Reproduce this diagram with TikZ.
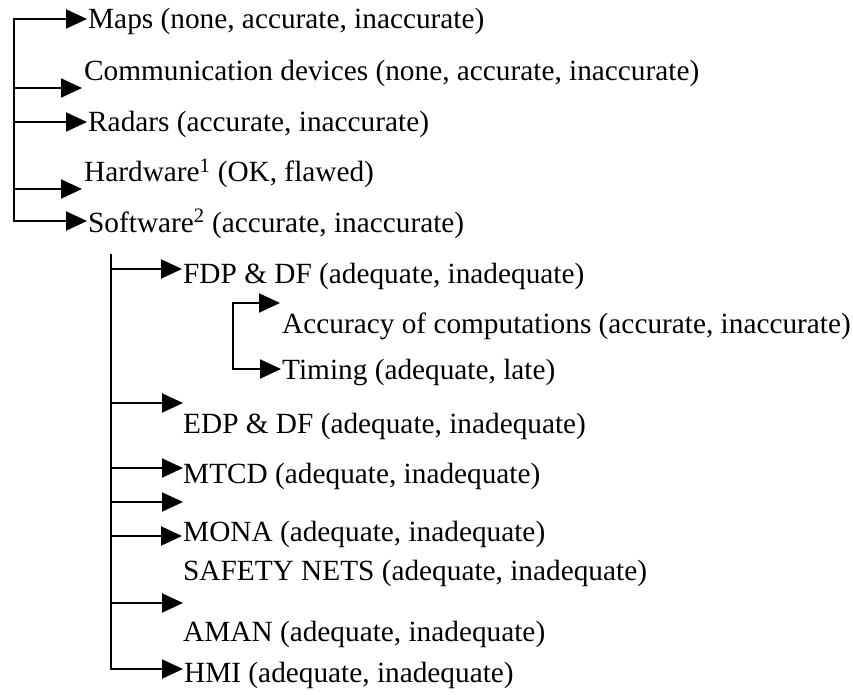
\documentclass[tikz,border=0pt]{standalone}
\usepackage{fontspec}
\setmainfont{Liberation Serif}
\usetikzlibrary{arrows.meta}
\begin{document}
\begin{tikzpicture}[x=1pt,y=-1pt,
  item/.style={anchor=base west, inner sep=0pt, font=\fontsize{29.3}{35}\selectfont},
  wire/.style={line width=2pt, line cap=rect},
  branch/.style={line width=2pt, -{Triangle[length=21pt,width=19pt]}}]
\useasboundingbox (0,0) rectangle (853,695);

% ---- labels ----
\node[item] (maps)   at (88,29)  {Maps (none, accurate, inaccurate)};
\node[item] (comm)   at (84,81)  {Communication devices (none, accurate, inaccurate)};
\node[item] (radars) at (88,132) {Radars (accurate, inaccurate)};
\node[item] (hw)     at (84,182) {Hardware\textsuperscript{1} (OK, flawed)};
\node[item] (sw)     at (88,232) {Software\textsuperscript{2} (accurate, inaccurate)};

\node[item] (fdp)    at (183,283) {FDP \& DF (adequate, inadequate)};
\node[item] (acc)    at (282,333) {Accuracy of computations (accurate, inaccurate)};
\node[item] (timing) at (282,379) {Timing (adequate, late)};
\node[item] (edp)    at (183,433) {EDP \& DF (adequate, inadequate)};
\node[item] (mtcd)   at (183,483) {MTCD (adequate, inadequate)};
\node[item] (mona)   at (183,541) {MONA (adequate, inadequate)};
\node[item] (safety) at (183,580) {SAFETY NETS (adequate, inadequate)};
\node[item] (aman)   at (183,641) {AMAN (adequate, inadequate)};
\node[item] (hmi)    at (184,682) {HMI (adequate, inadequate)};

% ---- arrow tips, placed against their labels ----
\coordinate (maps-in)   at ([shift={(-1,-10)}]maps.base west);
\coordinate (comm-in)   at ([shift={(-2,7)}]comm.base west);
\coordinate (radars-in) at ([shift={(-1,-10)}]radars.base west);
\coordinate (hw-in)     at ([shift={(-2,7)}]hw.base west);
\coordinate (sw-in)     at ([shift={(-1,-11)}]sw.base west);

\coordinate (fdp-in)    at ([shift={(-1,-14)}]fdp.base west);
\coordinate (acc-in)    at ([shift={(-2,-30)}]acc.base west);
\coordinate (timing-in) at ([shift={(-1,-10)}]timing.base west);
\coordinate (edp-in)    at ([shift={(0,-30)}]edp.base west);
\coordinate (mtcd-in)   at ([shift={(0,-15)}]mtcd.base west);
\coordinate (extra-in)  at ([shift={(0,-39)}]mona.base west);
\coordinate (mona-in)   at ([shift={(-1,-5)}]mona.base west);
\coordinate (aman-in)   at ([shift={(0,-38)}]aman.base west);
\coordinate (hmi-in)    at ([shift={(-1,-13)}]hmi.base west);

% ---- trunks ----
\coordinate (A) at (14,0);
\coordinate (B) at (111,255);
\coordinate (C) at (233,0);
\draw[wire] (A |- maps-in) -- (A |- sw-in);
\draw[wire] (B) -- (B |- hmi-in);
\draw[wire] (C |- acc-in) -- (C |- timing-in);

% ---- branches ----
\foreach \t in {maps,comm,radars,hw,sw}
  \draw[branch] (A |- \t-in) -- (\t-in);
\foreach \t in {fdp,edp,mtcd,extra,mona,aman,hmi}
  \draw[branch] (B |- \t-in) -- (\t-in);
\foreach \t in {acc,timing}
  \draw[branch] (C |- \t-in) -- (\t-in);
\end{tikzpicture}
\end{document}
